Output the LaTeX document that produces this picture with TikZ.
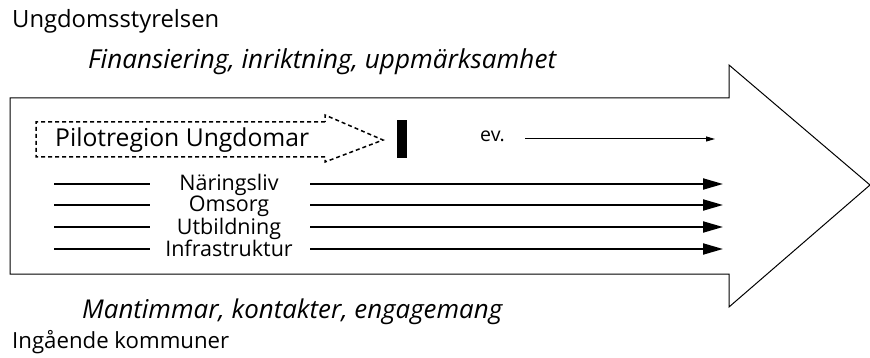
\documentclass[tikz,border=0pt]{standalone}
\usepackage{fontspec}
\usepackage{graphicx}
\setmainfont{Open Sans}
\usetikzlibrary{arrows.meta}
\newcommand{\fitw}[2]{\resizebox{#1}{!}{#2}}
\begin{document}
\begin{tikzpicture}[x=1pt,y=-1pt,
  lbl/.style={inner sep=0pt,anchor=base west,font=\fontsize{22.5}{26}\selectfont},
  ilbl/.style={lbl,font=\fontsize{23}{26}\selectfont\itshape},
  rowlbl/.style={inner sep=0pt,anchor=base,font=\fontsize{21.5}{24}\selectfont},
  rowline/.style={line width=2pt},
  rowarrow/.style={line width=2pt,-{Triangle[length=20pt,width=11pt]}},
  thinarrow/.style={line width=1pt,-{Triangle[length=9pt,width=5pt]}},
  bigarrow/.style={draw,line width=1pt,line join=miter},
  dasharrow/.style={draw,line width=1.5pt,dash pattern=on 4pt off 3pt}
]
\useasboundingbox (0,0) rectangle (870,358);
% big arrow
\draw[bigarrow] (10,98) -- (729,98) -- (729,65) -- (870,185) -- (729,307) -- (729,274) -- (10,274) -- cycle;
% top/bottom texts
\node[lbl] (ung) at (12,28) {\fitw{207pt}{Ungdomsstyrelsen}};
\node[ilbl] (fin) at (88,69) {\fitw{468pt}{Finansiering, inriktning, uppmärksamhet}};
\node[ilbl] (man) at (82,318) {\fitw{420pt}{Mantimmar, kontakter, engagemang}};
\node[lbl] (ing) at (12,348) {\fitw{217pt}{Ingående kommuner}};
% dashed arrow
\draw[dasharrow] (325,122) -- (36,122) -- (36,157) -- (325,157) -- (325,162) -- (383,140) -- (325,115) -- cycle;
\node[inner sep=0pt,anchor=base west,font=\fontsize{23.5}{26}\selectfont] (pilot) at (55,147) {\fitw{254pt}{Pilotregion Ungdomar}};
% black bar
\node[fill=black,inner sep=0pt,minimum width=10pt,minimum height=38pt] (bar) at (402,139) {};
% ev.
\node[inner sep=0pt,anchor=base west,font=\fontsize{19.5}{22}\selectfont] (ev) at (480,142) {ev.};
\coordinate (evend) at (715,139);
\draw[thinarrow] ([xshift=20pt]ev.east |- evend) -- (evend);
% rows
\foreach \n/\t/\y in {nar/Näringsliv/184, oms/Omsorg/205, utb/Utbildning/227, inf/Infrastruktur/249}{
  \node[rowlbl] (\n) at (229,\y+7) {\t};
  \coordinate (\n L) at (54,\y);
  \coordinate (\n A) at (150,\y);
  \coordinate (\n B) at (310,\y);
  \coordinate (\n R) at (723,\y);
  \draw[rowline] (\n L) -- (\n A);
  \draw[rowarrow] (\n B) -- (\n R);
}
\end{tikzpicture}
\end{document}
